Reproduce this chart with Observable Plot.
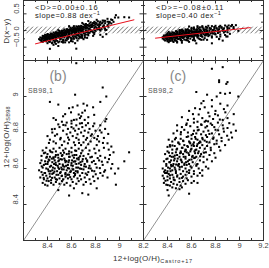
<!DOCTYPE html>
<html><head><meta charset="utf-8">
<script src="https://cdn.jsdelivr.net/npm/d3@7"></script>
<script src="https://cdn.jsdelivr.net/npm/@observablehq/plot@0.6"></script>
<style>
body{margin:0;background:#fff;}
#chart{position:relative;width:269px;height:268px;overflow:hidden;font-family:"Liberation Sans",Arial,sans-serif;background:#fff;}
#chart svg{position:absolute;overflow:visible;}
</style></head><body><div id="chart"></div>
<script>
// ---- data: [12+log(O/H)_Castro+17, 12+log(O/H)_SB98] ----
const sb98_1 = [
[8.36,8.52],[8.38,8.51],[8.40,8.505],[8.41,8.53],[8.43,8.52],[8.45,8.51],[8.47,8.525],[8.49,8.48],[8.50,8.515],[8.52,8.53],[8.54,8.51],[8.56,8.52],[8.58,8.45],[8.59,8.505],[8.61,8.525],[8.62,8.49],[8.64,8.515],[8.66,8.53],[8.69,8.463],[8.70,8.51],[8.72,8.525],[8.74,8.455],[8.76,8.515],[8.79,8.53],[8.81,8.49],[8.97,8.51],
[8.34,8.55],[8.36,8.565],[8.37,8.54],[8.39,8.56],[8.40,8.545],[8.42,8.555],[8.43,8.535],[8.44,8.57],[8.46,8.55],[8.47,8.54],[8.49,8.565],[8.50,8.545],[8.52,8.56],[8.53,8.54],[8.55,8.555],[8.57,8.545],[8.58,8.565],[8.60,8.54],[8.62,8.555],[8.63,8.57],[8.65,8.545],[8.67,8.56],[8.68,8.54],[8.71,8.55],[8.73,8.565],[8.75,8.54],[8.78,8.555],[8.82,8.545],[8.86,8.56],[8.90,8.55],
[8.33,8.59],[8.35,8.58],[8.36,8.605],[8.38,8.575],[8.39,8.60],[8.41,8.585],[8.42,8.61],[8.44,8.59],[8.45,8.575],[8.46,8.60],[8.48,8.585],[8.49,8.605],[8.51,8.58],[8.52,8.595],[8.54,8.61],[8.55,8.575],[8.56,8.59],[8.58,8.60],[8.59,8.58],[8.61,8.595],[8.62,8.575],[8.64,8.605],[8.65,8.585],[8.67,8.60],[8.69,8.575],[8.70,8.595],[8.72,8.61],[8.74,8.58],[8.76,8.60],[8.79,8.585],[8.81,8.605],[8.84,8.575],[8.88,8.59],[8.93,8.60],[8.99,8.60],
[8.34,8.63],[8.35,8.645],[8.37,8.62],[8.38,8.64],[8.40,8.625],[8.41,8.65],[8.43,8.615],[8.44,8.635],[8.46,8.645],[8.47,8.62],[8.49,8.64],[8.50,8.625],[8.52,8.65],[8.53,8.615],[8.55,8.635],[8.57,8.62],[8.58,8.645],[8.60,8.63],[8.61,8.615],[8.63,8.64],[8.64,8.625],[8.66,8.65],[8.68,8.62],[8.69,8.64],[8.71,8.625],[8.73,8.645],[8.75,8.615],[8.77,8.635],[8.80,8.625],[8.83,8.645],[8.86,8.62],[8.90,8.635],[8.94,8.625],[9.04,8.64],
[8.35,8.67],[8.37,8.685],[8.39,8.66],[8.40,8.68],[8.42,8.665],[8.44,8.69],[8.45,8.655],[8.47,8.675],[8.49,8.66],[8.51,8.685],[8.52,8.67],[8.54,8.655],[8.56,8.68],[8.58,8.665],[8.60,8.69],[8.62,8.66],[8.64,8.675],[8.66,8.66],[8.68,8.685],[8.70,8.67],[8.72,8.655],[8.74,8.68],[8.77,8.665],[8.80,8.685],[8.84,8.67],[8.88,8.66],[8.92,8.675],[9.08,8.69],
[8.36,8.70],[8.39,8.715],[8.42,8.70],[8.45,8.71],[8.47,8.695],[8.50,8.715],[8.53,8.70],[8.55,8.71],[8.58,8.695],[8.60,8.715],[8.63,8.70],[8.66,8.71],[8.69,8.70],[8.72,8.715],[8.75,8.70],[8.79,8.71],[8.83,8.70],[8.87,8.715],[8.91,8.705],[8.95,8.69],
[8.375,8.575],[8.385,8.625],[8.395,8.665],[8.405,8.595],[8.415,8.645],[8.425,8.585],[8.435,8.655],[8.445,8.605],[8.455,8.625],[8.465,8.665],[8.475,8.565],[8.485,8.615],[8.495,8.645],[8.505,8.575],[8.515,8.605],[8.525,8.675],[8.535,8.595],[8.545,8.645],[8.555,8.615],[8.565,8.565],[8.575,8.635],[8.585,8.665],[8.595,8.585],[8.605,8.645],[8.615,8.595],[8.625,8.675],[8.635,8.585],[8.645,8.655],[8.655,8.605],[8.675,8.635],
[8.352,8.612],[8.368,8.548],[8.381,8.688],[8.392,8.532],[8.403,8.637],[8.418,8.571],[8.427,8.693],[8.438,8.548],[8.449,8.662],[8.458,8.583],[8.468,8.632],[8.479,8.538],[8.488,8.676],[8.497,8.598],[8.508,8.652],[8.518,8.558],[8.527,8.622],[8.538,8.688],[8.548,8.568],[8.558,8.641],[8.569,8.603],[8.578,8.682],[8.589,8.552],[8.598,8.618],[8.609,8.672],[8.618,8.638],[8.629,8.563],[8.639,8.698],[8.651,8.578],[8.661,8.628],[8.672,8.668],[8.683,8.598],[8.694,8.652],[8.706,8.612],[8.718,8.572],[8.731,8.638],[8.744,8.602],[8.757,8.662],[8.771,8.588],[8.786,8.642],[8.802,8.568],[8.818,8.658],[8.836,8.602],[8.853,8.638],[8.872,8.582],[8.912,8.652],[8.962,8.572],
[8.40,8.78],[8.42,8.76],[8.44,8.80],[8.46,8.82],[8.48,8.79],[8.50,8.83],[8.51,8.77],[8.53,8.81],[8.54,8.75],[8.55,8.84],[8.56,8.79],[8.57,8.82],[8.58,8.76],[8.59,8.80],[8.60,8.83],[8.61,8.78],[8.62,8.745],[8.63,8.81],[8.64,8.84],[8.65,8.79],[8.66,8.82],[8.66,8.76],[8.67,8.85],[8.68,8.80],[8.69,8.83],[8.70,8.78],[8.70,8.745],[8.71,8.81],[8.72,8.84],[8.73,8.77],[8.74,8.80],[8.75,8.82],[8.76,8.75],[8.77,8.79],[8.78,8.835],[8.79,8.77],[8.80,8.81],[8.82,8.78],[8.83,8.75],[8.85,8.80],[8.87,8.77],[8.88,8.82],[8.90,8.74],[8.47,8.74],[8.52,8.73],[8.57,8.74],[8.63,8.73],[8.68,8.73],[8.74,8.735],[8.81,8.73],[8.45,8.75],[8.49,8.845],[8.60,8.85],[8.72,8.76],[8.64,8.77],
[8.412,8.742],[8.437,8.818],[8.462,8.782],[8.506,8.762],[8.532,8.842],[8.547,8.902],[8.571,8.772],[8.596,8.912],[8.617,8.822],[8.642,8.872],[8.663,8.742],[8.687,8.852],[8.712,8.922],[8.738,8.852],[8.761,8.782],[8.789,8.898],[8.812,8.762],[8.836,8.812],[8.862,8.742],[8.881,8.862],[8.906,8.792],[8.932,8.722],[8.78,8.94],
[8.42,8.97],[8.49,8.955],[8.63,9.01],[8.64,9.185],[8.86,9.05],[8.89,9.00],[8.84,8.97],[8.58,8.935],[8.61,8.94],[8.65,8.95],[8.70,8.96],[8.73,8.95],[8.66,8.90],[8.68,8.89],[8.69,8.91],[8.67,8.88],[8.74,8.885],[8.89,8.875],[8.47,8.87],[8.52,8.86],[8.56,8.855],[8.60,8.865],[8.79,8.85],[8.84,8.84],[8.62,8.87],[8.71,8.87],[8.53,8.89],[8.45,8.88]
];
const sb98_2 = [
[8.40,8.48],[8.41,8.45],[8.58,8.46],[8.44,8.495],[8.47,8.49],[8.50,8.485],[8.52,8.495],
[8.37,8.52],[8.39,8.51],[8.40,8.535],[8.42,8.505],[8.43,8.525],[8.45,8.515],[8.46,8.535],[8.48,8.51],[8.50,8.525],[8.51,8.505],[8.53,8.53],[8.55,8.515],[8.57,8.535],[8.60,8.52],[8.62,8.53],[8.65,8.52],
[8.36,8.56],[8.37,8.545],[8.38,8.575],[8.40,8.555],[8.41,8.57],[8.42,8.545],[8.44,8.565],[8.45,8.55],[8.47,8.575],[8.48,8.555],[8.50,8.545],[8.51,8.57],[8.53,8.555],[8.55,8.565],[8.56,8.545],[8.58,8.575],[8.60,8.555],[8.62,8.57],[8.65,8.56],[8.67,8.575],[8.69,8.56],
[8.36,8.60],[8.38,8.59],[8.39,8.615],[8.40,8.585],[8.42,8.60],[8.43,8.62],[8.44,8.59],[8.46,8.605],[8.47,8.585],[8.49,8.615],[8.50,8.595],[8.52,8.61],[8.53,8.585],[8.55,8.60],[8.56,8.62],[8.58,8.59],[8.60,8.605],[8.62,8.585],[8.64,8.615],[8.66,8.60],[8.69,8.59],[8.72,8.61],[8.74,8.60],
[8.37,8.64],[8.39,8.625],[8.40,8.655],[8.42,8.635],[8.43,8.645],[8.45,8.625],[8.46,8.655],[8.48,8.64],[8.49,8.62],[8.51,8.65],[8.52,8.635],[8.54,8.62],[8.55,8.655],[8.57,8.64],[8.58,8.625],[8.60,8.65],[8.61,8.635],[8.63,8.66],[8.65,8.625],[8.67,8.645],[8.70,8.635],[8.73,8.65],[8.77,8.64],[8.80,8.66],
[8.38,8.68],[8.40,8.695],[8.42,8.67],[8.44,8.685],[8.45,8.665],[8.47,8.69],[8.48,8.675],[8.50,8.665],[8.51,8.695],[8.53,8.68],[8.55,8.665],[8.56,8.69],[8.58,8.675],[8.59,8.695],[8.61,8.67],[8.63,8.685],[8.64,8.665],[8.66,8.695],[8.68,8.68],[8.70,8.665],[8.72,8.69],[8.75,8.675],[8.79,8.685],[8.84,8.70],
[8.40,8.72],[8.42,8.73],[8.44,8.705],[8.46,8.725],[8.48,8.71],[8.50,8.735],[8.52,8.715],[8.54,8.73],[8.55,8.705],[8.57,8.72],[8.59,8.74],[8.60,8.71],[8.62,8.725],[8.64,8.705],[8.65,8.735],[8.67,8.715],[8.69,8.73],[8.71,8.71],[8.73,8.725],[8.76,8.715],[8.79,8.735],[8.83,8.72],[8.88,8.73],
[8.41,8.76],[8.44,8.75],[8.47,8.77],[8.49,8.745],[8.51,8.765],[8.53,8.755],[8.56,8.775],[8.58,8.75],[8.60,8.765],[8.62,8.745],[8.63,8.775],[8.65,8.76],[8.67,8.75],[8.69,8.77],[8.71,8.755],[8.73,8.775],[8.75,8.745],[8.78,8.765],[8.81,8.755],[8.85,8.77],[8.91,8.76],
[8.45,8.795],[8.48,8.81],[8.51,8.79],[8.54,8.815],[8.57,8.80],[8.60,8.785],[8.62,8.81],[8.64,8.795],[8.66,8.815],[8.68,8.79],[8.70,8.805],[8.72,8.785],[8.74,8.81],[8.77,8.795],[8.80,8.815],[8.83,8.79],[8.87,8.805],[8.93,8.80],[8.97,8.81],
[8.48,8.84],[8.52,8.83],[8.56,8.85],[8.59,8.835],[8.62,8.855],[8.65,8.83],[8.68,8.845],[8.71,8.86],[8.73,8.835],[8.76,8.85],[8.79,8.83],[8.82,8.855],[8.86,8.84],[8.90,8.825],[8.95,8.845],
[8.52,8.885],[8.57,8.87],[8.62,8.876],[8.65,8.86],[8.66,8.90],[8.69,8.88],[8.72,8.865],[8.75,8.89],[8.78,8.875],[8.82,8.895],[8.86,8.87],[8.90,8.88],
[8.58,8.92],[8.63,8.935],[8.67,8.93],[8.71,8.94],[8.74,8.91],[8.77,8.945],[8.80,8.92],[8.84,8.96],[8.90,8.95],[8.87,8.93],
[8.64,9.025],[8.73,9.01],[8.77,8.98],[8.81,9.00],[8.84,9.02],[8.88,9.015],[8.92,9.02],[8.99,9.00],[8.70,8.975],
[8.83,9.08],[8.89,9.07],[8.77,9.154],[8.86,9.163],[8.83,9.09],[8.90,9.08],
[8.395,8.575],[8.405,8.605],[8.415,8.635],[8.425,8.585],[8.435,8.665],[8.445,8.615],[8.455,8.645],[8.465,8.595],[8.475,8.705],[8.485,8.655],[8.495,8.625],[8.505,8.685],[8.515,8.645],[8.525,8.715],[8.535,8.665],[8.545,8.695],[8.555,8.635],[8.565,8.725],[8.575,8.685],[8.585,8.745],[8.595,8.705],[8.605,8.665],[8.615,8.735],[8.625,8.695],[8.635,8.765],[8.645,8.725],[8.655,8.685],[8.675,8.745],
[8.372,8.582],[8.383,8.532],[8.391,8.652],[8.402,8.508],[8.412,8.688],[8.421,8.562],[8.432,8.612],[8.441,8.728],[8.452,8.538],[8.461,8.672],[8.472,8.622],[8.482,8.562],[8.491,8.742],[8.502,8.608],[8.512,8.688],[8.521,8.548],[8.532,8.752],[8.541,8.628],[8.552,8.702],[8.561,8.582],[8.572,8.778],[8.582,8.648],[8.592,8.612],[8.601,8.728],[8.612,8.792],[8.622,8.658],[8.632,8.702],[8.642,8.622],[8.652,8.812],[8.662,8.742],[8.673,8.668],[8.684,8.842],[8.693,8.762],[8.704,8.688],[8.716,8.828],[8.727,8.748],[8.738,8.862],[8.749,8.792],[8.761,8.702],[8.772,8.842],[8.784,8.772],[8.797,8.902],[8.809,8.738],[8.822,8.812],[8.836,8.872],[8.851,8.752],[8.866,8.822],[8.882,8.912],[8.897,8.782],[8.915,8.852],[8.938,8.772],[8.952,8.902],[8.682,8.962],[8.612,8.902],[8.556,8.842],[8.512,8.802],[8.462,8.762],[8.422,8.722]
];
// fitted D(x-y) lines [x, D]
const fit1 = [[8.30,-0.40],[9.12,0.32]];
const fit2 = [[8.30,-0.23],[9.09,0.086]];
const band = [{lo:-0.1, hi:0.1}];
const oneToOne = [[8.2,8.2],[9.2,9.2]];
const stats1 = ["<D>=0.00±0.16", "0.88"];
const stats2 = ["<D>=−0.08±0.11", "0.40"];
// ticks
const xMajor = [8.2,8.4,8.6,8.8,9.0,9.2];
const xMinor = [8.3,8.5,8.7,8.9,9.1];
const xLabelsLeft = [[8.4,"8.4"],[8.6,"8.6"],[8.8,"8.8"],[9.0,"9"]];
const xLabelsRight = [[8.2,"8.2"],[8.4,"8.4"],[8.6,"8.6"],[8.8,"8.8"],[9.0,"9"],[9.2,"9.2"]];
const ohMajor = [8.2,8.4,8.6,8.8,9.0,9.2];
const ohMinor = [8.3,8.5,8.7,8.9,9.1];
const ohLabels = [[8.4,"8.4"],[8.6,"8.6"],[8.8,"8.8"],[9.0,"9"]];
const dMajor = [-0.5,0,0.5];
const dMinor = [-0.75,-0.25,0.25,0.75];
const dLabels = [[-0.5,"−0.5"],[0,"0"],[0.5,"0.5"]];

const ink = "#333";
const chart = document.getElementById("chart");

function ticks(width, height, xMaj, xMin, yMaj, yMin) {
  const M = 3.5, m = 2;
  return [
    Plot.tickX(xMaj, {x: d => d, insetTop: height - M, stroke: ink}),
    Plot.tickX(xMaj, {x: d => d, insetBottom: height - M, stroke: ink}),
    Plot.tickX(xMin, {x: d => d, insetTop: height - m, stroke: ink}),
    Plot.tickX(xMin, {x: d => d, insetBottom: height - m, stroke: ink}),
    Plot.tickY(yMaj, {y: d => d, insetRight: width - M, stroke: ink}),
    Plot.tickY(yMaj, {y: d => d, insetLeft: width - M, stroke: ink}),
    Plot.tickY(yMin, {y: d => d, insetRight: width - m, stroke: ink}),
    Plot.tickY(yMin, {y: d => d, insetLeft: width - m, stroke: ink}),
    Plot.frame({stroke: ink, strokeWidth: 1})
  ];
}

function place(svg, left, top) {
  svg.style.left = left + "px";
  svg.style.top = top + "px";
  chart.appendChild(svg);
}

const tickFont = {fontSize: 7.5, fill: "#444", fontFamily: "Liberation Sans, Arial, sans-serif"};

function topPanel(data, fit, left, showY) {
  const w = 120, h = 60;
  const svg = Plot.plot({
    width: w, height: h, margin: 0,
    x: {domain: [8.2, 9.2], axis: null},
    y: {domain: [-0.9, 0.9], axis: null},
    style: {overflow: "visible", background: "transparent"},
    marks: [
      Plot.rect(band, {x1: () => 8.2, x2: () => 9.2, y1: d => d.lo, y2: d => d.hi, fill: "url(#hatch)"}),
      Plot.dot(data, {x: d => d[0], y: d => d[0] - d[1], r: 1.15, symbol: "square", fill: "#000"}),
      Plot.line(fit, {x: d => d[0], y: d => d[1], stroke: "#e8101c", strokeWidth: 1}),
      ...ticks(w, h, xMajor, xMinor, dMajor, dMinor),
      showY ? Plot.text(dLabels, {y: d => d[0], text: d => d[1], frameAnchor: "left", dx: -7, rotate: -90, ...tickFont}) : null
    ]
  });
  place(svg, left, 0);
}

function bottomPanel(data, left, showY, xLabels) {
  const w = 120, h = 180;
  const svg = Plot.plot({
    width: w, height: h, margin: 0,
    x: {domain: [8.2, 9.2], axis: null},
    y: {domain: [8.2, 9.2], axis: null},
    style: {overflow: "visible", background: "transparent"},
    marks: [
      Plot.line(oneToOne, {x: d => d[0], y: d => d[1], stroke: "#777", strokeWidth: 0.8}),
      Plot.dot(data, {x: d => d[0], y: d => d[1], r: 1.15, symbol: "square", fill: "#000"}),
      ...ticks(w, h, xMajor, xMinor, ohMajor, ohMinor),
      showY ? Plot.text(ohLabels, {y: d => d[0], text: d => d[1], frameAnchor: "left", dx: -8, rotate: -90, ...tickFont}) : null,
      Plot.text(xLabels, {x: d => d[0], text: d => d[1], frameAnchor: "bottom", dy: 7, ...tickFont})
    ]
  });
  place(svg, left, 60);
}

topPanel(sb98_1, fit1, 23, true);
topPanel(sb98_2, fit2, 143, false);
bottomPanel(sb98_1, 23, true, xLabelsLeft);
bottomPanel(sb98_2, 143, false, xLabelsRight);

// overlay: pattern + titles and annotations
const ov = d3.select(chart).append("svg")
  .attr("width", 269).attr("height", 268)
  .style("left", "0px").style("top", "0px")
  .style("font-family", "Liberation Sans, Arial, sans-serif");
const pat = ov.append("defs").append("pattern")
  .attr("id", "hatch").attr("patternUnits", "userSpaceOnUse")
  .attr("width", 3.2).attr("height", 3.2)
  .attr("patternTransform", "rotate(45)");
pat.append("line").attr("x1", 0).attr("y1", 0).attr("x2", 0).attr("y2", 3.2)
  .attr("stroke", "#222").attr("stroke-width", 0.9);

function rotLabel(x, y, main, sub) {
  const t = ov.append("text").attr("transform", `translate(${x},${y}) rotate(-90)`)
    .attr("text-anchor", "middle").attr("dominant-baseline", "middle")
    .attr("font-size", 8).attr("fill", "#333").attr("letter-spacing", 0.3);
  t.append("tspan").text(main);
  if (sub) t.append("tspan").attr("font-size", 5.5).attr("dy", 2).text(sub);
}
rotLabel(7, 31, "D(x−y)");
rotLabel(7, 137, "12+log(O/H)", "SB98");

const xt = ov.append("text").attr("x", 153).attr("y", 261).attr("text-anchor", "middle")
  .attr("font-size", 8).attr("fill", "#333").attr("letter-spacing", 0.3);
xt.append("tspan").text("12+log(O/H)");
xt.append("tspan").attr("font-size", 5.5).attr("dy", 2).attr("letter-spacing", 0.8).text("Castro+17");

function stats(x, s) {
  ov.append("text").attr("x", x).attr("y", 9.5).attr("font-size", 7.5).attr("fill", "#222")
    .attr("letter-spacing", 0.9).text(s[0]);
  const t = ov.append("text").attr("x", x).attr("y", 18).attr("font-size", 7.5).attr("fill", "#222")
    .attr("letter-spacing", 0.5);
  t.append("tspan").text(`slope=${s[1]} dex`);
  t.append("tspan").attr("font-size", 5.5).attr("dy", -3).text("−1");
}
stats(35, stats1);
stats(156, stats2);

function tag(x, letter, name) {
  ov.append("text").attr("x", x).attr("y", 81).attr("font-size", 14).attr("fill", "#888")
    .attr("text-anchor", "middle").text(letter);
  ov.append("text").attr("x", x - 30).attr("y", 93).attr("font-size", 7).attr("fill", "#555")
    .attr("letter-spacing", 0.4).text(name);
}
tag(58, "(b)", "SB98,1");
tag(178, "(c)", "SB98,2");
</script></body></html>
